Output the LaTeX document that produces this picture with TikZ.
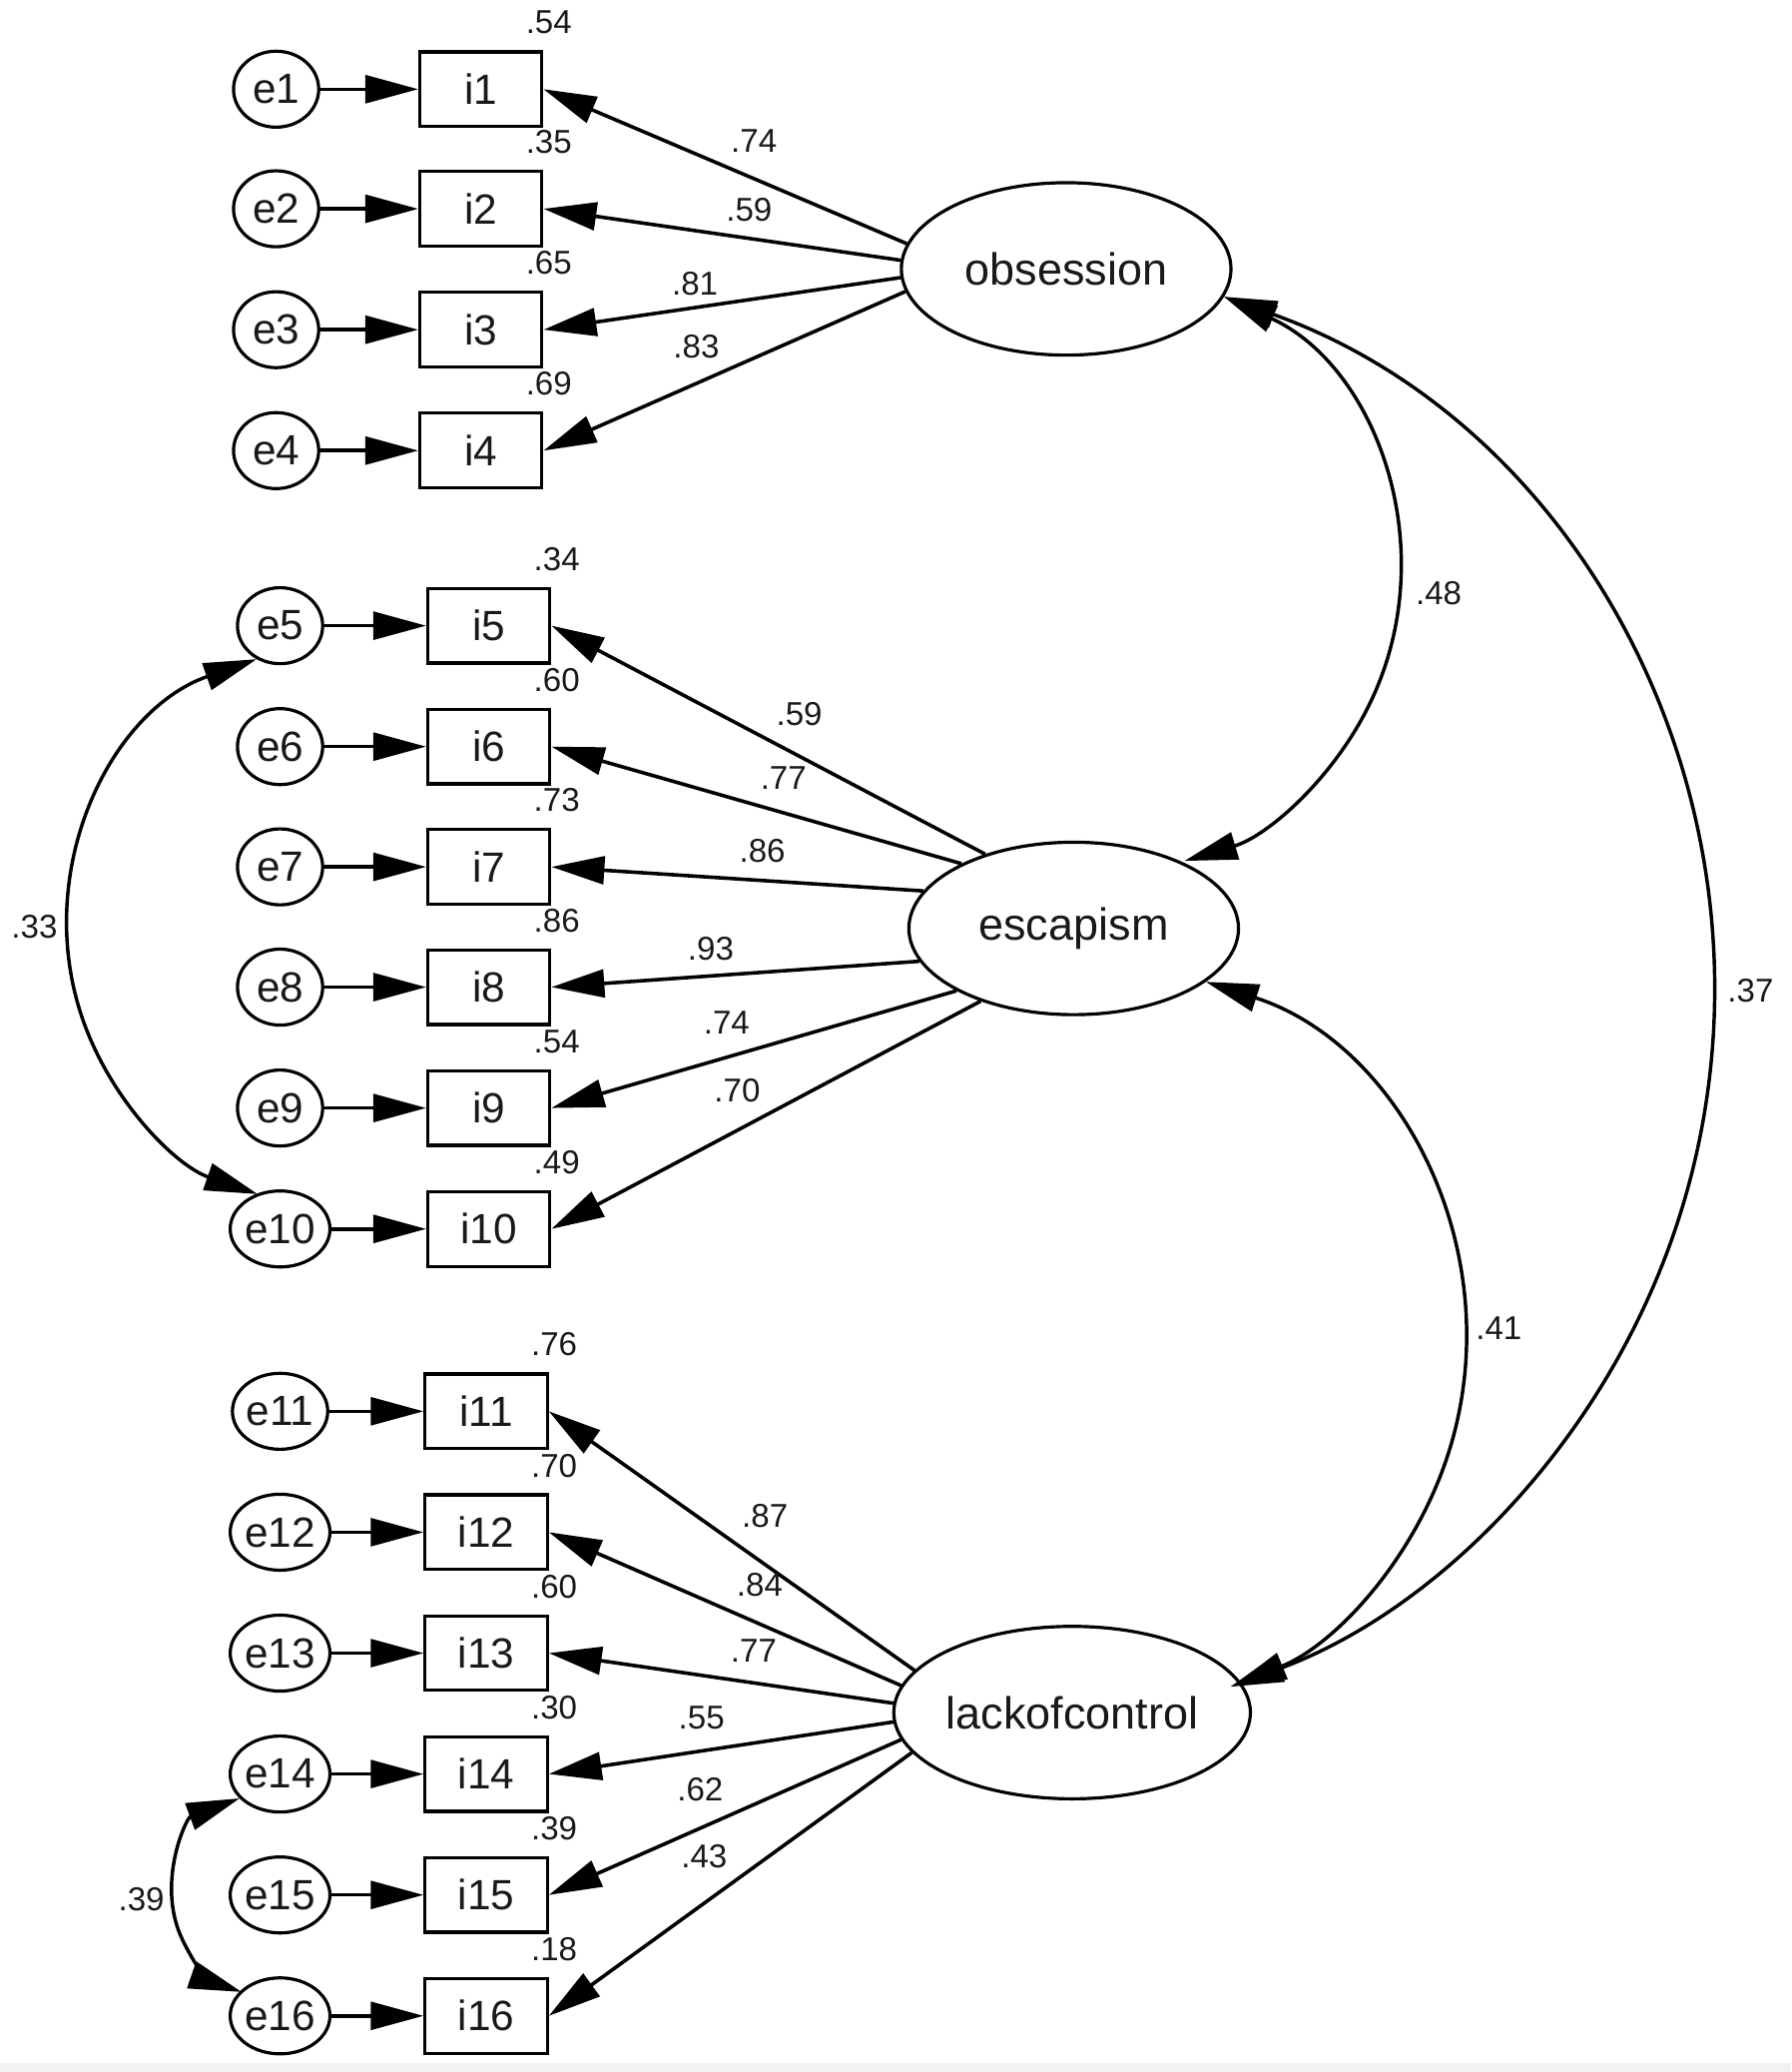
\documentclass[tikz,border=0pt]{standalone}
\usepackage{fontspec}
\setmainfont{Liberation Sans}
\usetikzlibrary{shapes.geometric,arrows.meta,calc}
\begin{document}
\begin{tikzpicture}[x=1pt,y=1pt,
  >={Triangle[length=40pt,width=21pt]},
  txt/.style={text=black!90},
  err/.style={ellipse,draw,line width=2.4pt,minimum width=64.5pt,minimum height=57.5pt,inner sep=0pt,font=\fontsize{32}{38}\selectfont,txt},
  ind/.style={rectangle,draw,line width=2.4pt,minimum width=92.5pt,minimum height=56.5pt,inner sep=0pt,font=\fontsize{32}{38}\selectfont,txt},
  lat/.style={ellipse,draw,line width=2.4pt,minimum width=249.5pt,minimum height=130.5pt,inner sep=0pt,font=\fontsize{34}{40}\selectfont,txt},
  val/.style={inner sep=0pt,font=\fontsize{25}{30}\selectfont,txt},
  arr/.style={->,line width=2.7pt},
  biarr/.style={<->,line width=2.6pt}]
\useasboundingbox (0,0) rectangle (1356,-1568);
\fill[black!5] (0,-1561) rectangle (1356,-1568);

% latent variables
\node[lat] (obs) at (807,-203.5) {obsession};
\node[lat] (esc) at (812.7,-702.6) {escapism};
\node[lat] (lac) at (811.5,-1296) {lackofcontrol};

% top group
\foreach \k/\y in {1/67.5,2/158,3/249.5,4/341}{
  \node[err] (e\k) at (209,-\y) {e\k};
  \node[ind] (i\k) at (364,-\y) {i\k};
}
% middle group
\foreach \k/\y in {5/473.5,6/565,7/656,8/747,9/838.5,10/930}{
  \node[err] (e\k) at (212,-\y) {e\k};
  \node[ind] (i\k) at (370,-\y) {i\k};
}
% bottom group
\foreach \k/\y in {11/1068,12/1159.5,13/1251,14/1342.5,15/1434,16/1525.5}{
  \node[err] (e\k) at (212,-\y) {e\k};
  \node[ind] (i\k) at (368,-\y) {i\k};
}

% error -> indicator
\foreach \k in {1,...,16}{
  \draw[arr] (e\k.east) -- (i\k.west);
}

% loadings
\foreach \k/\a in {1/171.4,2/177.4,3/183.1,4/188.9}{
  \draw[arr] (obs.\a) -- (i\k.east);
}
\foreach \k/\a in {5/140.9,6/150.9,7/166.9,8/192.5,9/208.3,10/218.1}{
  \draw[arr] (esc.\a) -- (i\k.east);
}
\foreach \k/\a in {11/165.9,12/171.1,13/177,14/183.1,15/189.2,16/194.3}{
  \draw[arr] (lac.\a) -- (i\k.east);
}

% covariances
\draw[biarr] (obs.-10.2) arc[start angle=65.4, end angle=-73.4, radius=228.6];
\draw[biarr] (obs.-10.2) arc[start angle=70.3, end angle=-69.76, radius=559.6];
\draw[biarr] (esc.-22.8) arc[start angle=72.2, end angle=-67.7, radius=283.9];
\draw[biarr] (e5.235.3) arc[start angle=109.3, end angle=250.9, radius=214.3];
\draw[biarr] (e14.211.7) arc[start angle=110.1, end angle=251.1, radius=77.7];

% squared multiple correlations
\foreach \k/\v in {1/.54,2/.35,3/.65,4/.69,5/.34,6/.60,7/.73,8/.86,9/.54,10/.49,11/.76,12/.70,13/.60,14/.30,15/.39,16/.18}{
  \node[val] (r\k) at ($(i\k.north east)+(4,21)$) {\v};
}

% loading values
\node[val] (l1) at (570.7,-106.5) {.74};
\node[val] (l2) at (567,-158.6) {.59};
\node[val] (l3) at (526,-214.6) {.81};
\node[val] (l4) at (527,-262.6) {.83};
\node[val] (l5) at (605,-540) {.59};
\node[val] (l6) at (593,-588.6) {.77};
\node[val] (l7) at (577,-644) {.86};
\node[val] (l8) at (538,-718) {.93};
\node[val] (l9) at (550,-774) {.74};
\node[val] (l10) at (558,-825) {.70};
\node[val] (l11) at (579,-1147) {.87};
\node[val] (l12) at (575,-1199) {.84};
\node[val] (l13) at (570.5,-1249) {.77};
\node[val] (l14) at (531,-1300) {.55};
\node[val] (l15) at (530,-1354) {.62};
\node[val] (l16) at (533,-1405) {.43};

% covariance values
\node[val] (c1) at (1089,-449) {.48};
\node[val] (c2) at (1134.5,-1005) {.41};
\node[val] (c3) at (1325,-750) {.37};
\node[val] (c4) at (26,-701) {.33};
\node[val] (c5) at (107,-1437) {.39};
\end{tikzpicture}
\end{document}
